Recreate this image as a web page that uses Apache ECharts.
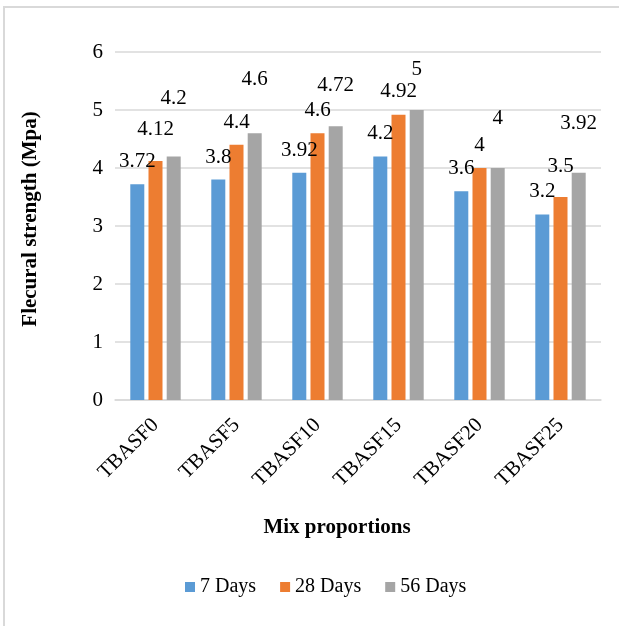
<!DOCTYPE html>
<html>
<head>
<meta charset="utf-8">
<script src="https://cdn.jsdelivr.net/npm/echarts@6/dist/echarts.min.js"></script>
<style>
  html, body { margin: 0; padding: 0; background: #fff; }
  #chart { width: 619px; height: 626px; }
</style>
</head>
<body>
<div id="chart"></div>
<script>
// Flexural strength of the mixes at three curing ages
const categories = ['TBASF0', 'TBASF5', 'TBASF10', 'TBASF15', 'TBASF20', 'TBASF25'];
const days7  = [3.72, 3.8, 3.92, 4.2, 3.6, 3.2];
const days28 = [4.12, 4.4, 4.6, 4.92, 4.0, 3.5];
const days56 = [4.2, 4.6, 4.72, 5.0, 4.0, 3.92];
const seriesNames = ['7 Days', '28 Days', '56 Days'];
const yTicks = [0, 1, 2, 3, 4, 5, 6];

// extra upward shift (px) of individual value labels so they don't collide
const labelLift7  = [0, 0, 0, 0, 0, 0];
const labelLift28 = [9, 0, 0, 1, 0, 8];
const labelLift56 = [35, 31, 18, 18, 27, 27];

const colors = ['#5B9BD5', '#ED7D31', '#A5A5A5'];
const FONT = '"Liberation Serif", "Times New Roman", serif';

function makeSeries(name, values, lifts, color) {
  return {
    name: name,
    type: 'bar',
    barWidth: 14,
    barGap: '30%',
    itemStyle: { color: color },
    data: values.map(function (v, i) {
      return {
        value: v,
        label: { offset: [0, -lifts[i]] }
      };
    }),
    label: {
      show: true,
      position: 'top',
      distance: 12,
      fontFamily: FONT,
      fontSize: 21,
      color: '#000'
    }
  };
}

const chart = echarts.init(document.getElementById('chart'));
chart.setOption({
  animation: false,
  backgroundColor: '#fff',
  graphic: [{
    type: 'rect',
    shape: { x: 4, y: 7, width: 700, height: 700 },
    style: { fill: 'none', stroke: '#D9D9D9', lineWidth: 2 },
    silent: true
  }],
  grid: { left: 115, right: 18, top: 52, bottom: 226 },
  legend: {
    data: seriesNames,
    left: 180,
    top: 572,
    itemWidth: 10,
    itemHeight: 10,
    itemGap: 24,
    icon: 'rect',
    textStyle: { fontFamily: FONT, fontSize: 20, color: '#000' }
  },
  xAxis: {
    type: 'category',
    data: categories,
    name: 'Mix proportions',
    nameLocation: 'middle',
    nameGap: 117,
    nameTextStyle: {
      fontFamily: FONT, fontSize: 21, fontWeight: 'bold', color: '#000',
      padding: [0, 42, 0, 0]
    },
    axisLine: { lineStyle: { color: '#D9D9D9', width: 1.5 } },
    axisTick: { show: false },
    axisLabel: {
      rotate: 45,
      margin: 22,
      fontFamily: FONT,
      fontSize: 21,
      color: '#000'
    }
  },
  yAxis: {
    type: 'value',
    min: yTicks[0],
    max: yTicks[yTicks.length - 1],
    interval: 1,
    name: 'Flecural strength (Mpa)',
    nameLocation: 'middle',
    nameGap: 74,
    nameTextStyle: {
      fontFamily: FONT, fontSize: 21, fontWeight: 'bold', color: '#000',
      padding: [0, 0, 0, 14]
    },
    axisLine: { show: false },
    axisTick: { show: false },
    splitLine: { lineStyle: { color: '#D9D9D9', width: 1.5 } },
    axisLabel: { margin: 12, fontFamily: FONT, fontSize: 21, color: '#000' }
  },
  series: [
    makeSeries(seriesNames[0], days7, labelLift7, colors[0]),
    makeSeries(seriesNames[1], days28, labelLift28, colors[1]),
    makeSeries(seriesNames[2], days56, labelLift56, colors[2])
  ]
});
</script>
</body>
</html>
